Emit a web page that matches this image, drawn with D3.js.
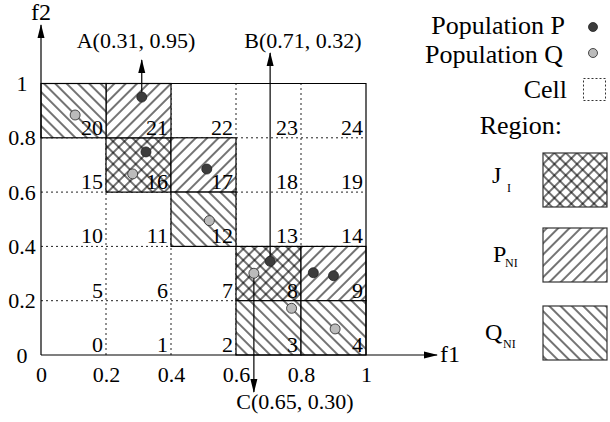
<!DOCTYPE html>
<html>
<head>
<meta charset="utf-8">
<script src="https://cdn.jsdelivr.net/npm/d3@7"></script>
<style>
  body { margin: 0; background: #fff; }
</style>
</head>
<body>
<svg id="chart" width="610" height="422" style="font-family: 'Liberation Serif', 'DejaVu Serif', 'Times New Roman', serif;"></svg>
<script>
// ticks on both axes
const xTicks = [0, 0.2, 0.4, 0.6, 0.8, 1];
const yTicks = [0, 0.2, 0.4, 0.6, 0.8, 1];

// cell numbers, 5 per row from the bottom left
const cellIds = [0, 1, 2, 3, 4, 5, 6, 7, 8, 9, 10, 11, 12, 13, 14,
                 15, 16, 17, 18, 19, 20, 21, 22, 23, 24];

// cells of each region
const jCells = [16, 8];
const pCells = [21, 17, 9];
const qCells = [20, 12, 3, 4];

// points [f1, f2]
const popP = [[0.31, 0.95], [0.323, 0.748], [0.51, 0.685], [0.705, 0.345], [0.838, 0.303], [0.90, 0.292]];
const popQ = [[0.105, 0.884], [0.282, 0.667], [0.518, 0.495], [0.655, 0.301], [0.771, 0.172], [0.905, 0.096]];

// labelled points
const noteLabels = ["A(0.31, 0.95)", "B(0.71, 0.32)", "C(0.65, 0.30)"];
const notePoints = [popP[0], popP[3], popQ[3]];

const FONT = "'Liberation Serif', 'DejaVu Serif', 'Times New Roman', serif";
const svg = d3.select("#chart");
const x = d3.scaleLinear().domain([0, 1]).range([41, 366]);
const y = d3.scaleLinear().domain([0, 1]).range([355, 83.5]);
const step = 0.2;

const defs = svg.append("defs");

defs.append("marker")
  .attr("id", "arrow")
  .attr("markerUnits", "userSpaceOnUse")
  .attr("markerWidth", 14).attr("markerHeight", 8)
  .attr("refX", 13).attr("refY", 4)
  .attr("orient", "auto")
  .append("path")
  .attr("d", "M0,0.5L14,4L0,7.5Z")
  .attr("fill", "#000");

function hatch(id, angle, cross) {
  const p = defs.append("pattern")
    .attr("id", id)
    .attr("patternUnits", "userSpaceOnUse")
    .attr("width", 8).attr("height", 8)
    .attr("patternTransform", `rotate(${angle})`);
  p.append("rect").attr("width", 8).attr("height", 8).attr("fill", "#fff");
  p.append("line").attr("x1", 4).attr("y1", 0).attr("x2", 4).attr("y2", 8)
    .attr("stroke", "#000").attr("stroke-width", 1.1);
  if (cross) {
    p.append("line").attr("x1", 0).attr("y1", 4).attr("x2", 8).attr("y2", 4)
      .attr("stroke", "#000").attr("stroke-width", 1.1);
  }
}
hatch("hJ", 45, true);
hatch("hP", 45, false);
hatch("hQ", -45, false);

// dotted cell grid
const inner = yTicks.slice(1, -1);
svg.append("g").selectAll("line").data(inner).join("line")
  .attr("x1", d => x(d)).attr("x2", d => x(d))
  .attr("y1", y(0)).attr("y2", y(1))
  .attr("stroke", "#222").attr("stroke-width", 1).attr("stroke-dasharray", "2,3");
svg.append("g").selectAll("line").data(inner).join("line")
  .attr("y1", d => y(d)).attr("y2", d => y(d))
  .attr("x1", x(0)).attr("x2", x(1))
  .attr("stroke", "#222").attr("stroke-width", 1).attr("stroke-dasharray", "2,3");

// hatched region cells
const regionCells = [
  ...jCells.map(c => ({ c, fill: "url(#hJ)" })),
  ...pCells.map(c => ({ c, fill: "url(#hP)" })),
  ...qCells.map(c => ({ c, fill: "url(#hQ)" }))
];
svg.append("g").selectAll("rect").data(regionCells).join("rect")
  .attr("x", d => x((d.c % 5) * step))
  .attr("y", d => y((Math.floor(d.c / 5) + 1) * step))
  .attr("width", x(step) - x(0))
  .attr("height", y(0) - y(step))
  .attr("fill", d => d.fill)
  .attr("stroke", "#000").attr("stroke-width", 1.2);

// outer border top / right
svg.append("path")
  .attr("d", `M${x(0)},${y(1)}H${x(1)}V${y(0)}`)
  .attr("fill", "none").attr("stroke", "#000").attr("stroke-width", 1.2);

// axes with arrows
svg.append("line")
  .attr("x1", x(0)).attr("y1", y(0)).attr("x2", 437).attr("y2", y(0))
  .attr("stroke", "#000").attr("stroke-width", 1.2).attr("marker-end", "url(#arrow)");
svg.append("line")
  .attr("x1", x(0)).attr("y1", y(0)).attr("x2", x(0)).attr("y2", 25)
  .attr("stroke", "#000").attr("stroke-width", 1.2).attr("marker-end", "url(#arrow)");
svg.append("text").attr("x", x(0)).attr("y", 20).attr("text-anchor", "middle")
  .attr("font-family", FONT).attr("font-size", 24).text("f2");
svg.append("text").attr("x", 440).attr("y", 362)
  .attr("font-family", FONT).attr("font-size", 24).text("f1");

// tick labels
svg.append("g")
  .attr("transform", `translate(0,${y(0)})`)
  .call(d3.axisBottom(x).tickValues(xTicks).tickSize(0).tickPadding(11).tickFormat(d3.format("~g")))
  .call(g => g.select(".domain").remove())
  .attr("font-family", FONT).attr("font-size", 22);

svg.append("g")
  .attr("transform", `translate(${x(0)},0)`)
  .call(d3.axisLeft(y).tickValues(yTicks).tickSize(0).tickFormat(d3.format("~g")))
  .call(g => g.select(".domain").remove())
  .call(g => g.selectAll("text").attr("text-anchor", "middle").attr("x", -19))
  .attr("font-family", FONT).attr("font-size", 22);

// cell numbers
svg.append("g").attr("font-family", FONT).attr("font-size", 22)
  .selectAll("text").data(cellIds).join("text")
  .attr("x", d => x((d % 5 + 1) * step) - 3)
  .attr("y", d => y(Math.floor(d / 5) * step) - 3)
  .attr("text-anchor", "end")
  .text(d => d);

// annotation arrows and labels
const noteLabelX = [136, 303, 295];
const noteTipY = [60, 53, 392];
const noteTextY = [48, 48, 409];
notePoints.forEach((p, i) => {
  svg.append("line")
    .attr("x1", x(p[0])).attr("y1", y(p[1]))
    .attr("x2", x(p[0])).attr("y2", noteTipY[i])
    .attr("stroke", "#000").attr("stroke-width", 1.2)
    .attr("marker-end", "url(#arrow)");
  svg.append("text")
    .attr("x", noteLabelX[i]).attr("y", noteTextY[i])
    .attr("text-anchor", "middle")
    .attr("font-family", FONT).attr("font-size", 22)
    .text(noteLabels[i]);
});

// points
svg.append("g").selectAll("circle").data(popQ).join("circle")
  .attr("cx", d => x(d[0])).attr("cy", d => y(d[1])).attr("r", 5)
  .attr("fill", "#bbb").attr("stroke", "#222").attr("stroke-width", 0.8);
svg.append("g").selectAll("circle").data(popP).join("circle")
  .attr("cx", d => x(d[0])).attr("cy", d => y(d[1])).attr("r", 5)
  .attr("fill", "#3c3c3c").attr("stroke", "#222").attr("stroke-width", 0.8);

// legend
const lg = svg.append("g").attr("font-family", FONT).attr("font-size", 26);
lg.append("text").attr("x", 565).attr("y", 34).attr("text-anchor", "end").text("Population P");
lg.append("circle").attr("cx", 593).attr("cy", 27).attr("r", 4.5)
  .attr("fill", "#3c3c3c").attr("stroke", "#222").attr("stroke-width", 0.8);
lg.append("text").attr("x", 563).attr("y", 63).attr("text-anchor", "end").text("Population Q");
lg.append("circle").attr("cx", 593).attr("cy", 53).attr("r", 4.5)
  .attr("fill", "#bbb").attr("stroke", "#222").attr("stroke-width", 0.8);
lg.append("text").attr("x", 567).attr("y", 98).attr("text-anchor", "end").text("Cell");
lg.append("rect").attr("x", 583.5).attr("y", 78.5).attr("width", 22).attr("height", 22)
  .attr("fill", "none").attr("stroke", "#333").attr("stroke-width", 1).attr("stroke-dasharray", "2,2");
lg.append("text").attr("x", 562).attr("y", 134).attr("text-anchor", "end").text("Region:");

const legendRegions = [
  { main: "J", sub: "I", fill: "url(#hJ)", top: 153, mx: 492, base: 183, sx: 507, sb: 192 },
  { main: "P", sub: "NI", fill: "url(#hP)", top: 228, mx: 493, base: 262, sx: 505, sb: 267 },
  { main: "Q", sub: "NI", fill: "url(#hQ)", top: 306, mx: 485, base: 340, sx: 503, sb: 348 }
];
legendRegions.forEach(r => {
  svg.append("rect").attr("x", 543).attr("y", r.top).attr("width", 64).attr("height", 54)
    .attr("fill", r.fill).attr("stroke", "#333").attr("stroke-width", 1.2);
  svg.append("text").attr("x", r.mx).attr("y", r.base)
    .attr("font-family", FONT).attr("font-size", 24).text(r.main);
  svg.append("text").attr("x", r.sx).attr("y", r.sb)
    .attr("font-family", FONT).attr("font-size", 12).text(r.sub);
});
</script>
</body>
</html>
